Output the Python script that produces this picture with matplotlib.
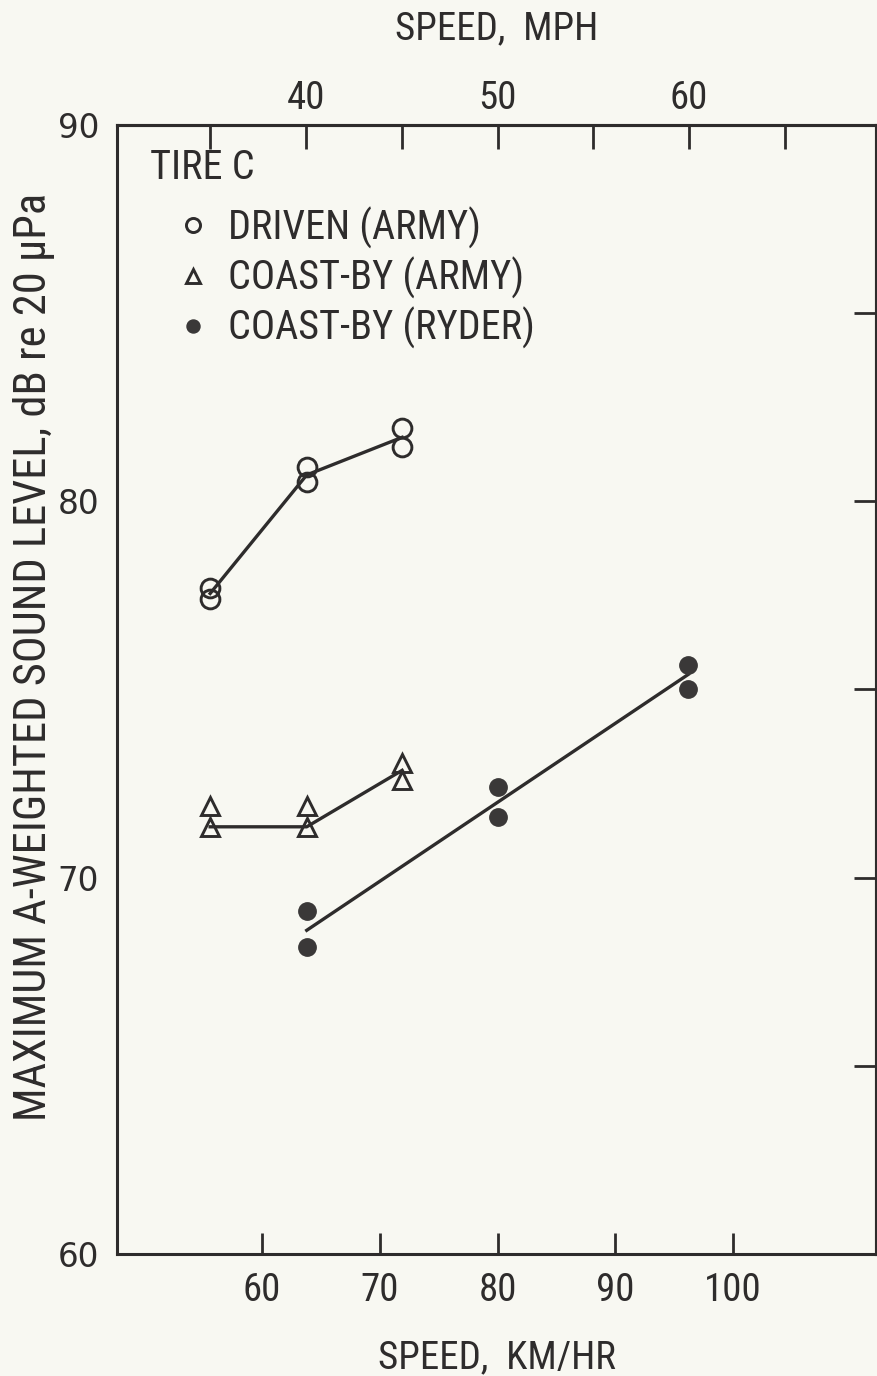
"""
Tire C coast-by / driven noise vs speed, redrawn from the scanned figure.
Writes out.png (877 x 1376 px).
"""

import matplotlib
matplotlib.use("Agg")
import matplotlib.pyplot as plt
from matplotlib import font_manager

# ----------------------------------------------------------------------
# Data (speed in km/hr, level in dB(A))
# ----------------------------------------------------------------------
DRIVEN_KMH = [55.6, 55.6, 63.8, 63.8, 71.9, 71.9]
DRIVEN_DB = [77.7, 77.4, 80.9, 80.5, 81.95, 81.45]
DRIVEN_LINE_KMH = [55.6, 63.8, 71.9]
DRIVEN_LINE_DB = [77.55, 80.7, 81.7]

ARMY_COAST_KMH = [55.6, 55.6, 63.8, 63.8, 71.9, 71.9]
ARMY_COAST_DB = [71.9, 71.35, 71.9, 71.35, 73.05, 72.6]
ARMY_COAST_LINE_KMH = [55.6, 63.8, 71.9]
ARMY_COAST_LINE_DB = [71.35, 71.35, 72.85]

RYDER_KMH = [63.8, 63.8, 80.0, 80.0, 96.2, 96.2]
RYDER_DB = [69.1, 68.15, 72.4, 71.6, 75.65, 75.0]
RYDER_LINE_KMH = [63.8, 96.2]
RYDER_LINE_DB = [68.6, 75.4]

KMH_TICKS = [60, 70, 80, 90, 100]
MPH_TICKS = [35, 40, 45, 50, 55, 60, 65]
MPH_LABELS = ["", "40", "", "50", "", "60", ""]
DB_TICKS = [60, 70, 80, 90]
DB_MINOR = [65, 70, 75, 80, 85]

LEGEND_LABELS = ["DRIVEN (ARMY)", "COAST-BY (ARMY)", "COAST-BY (RYDER)"]

INK = "#2e2c2c"
PAPER = "#f8f8f2"


def pick_narrow_font():
    # the scan uses a condensed grotesque; use whatever narrow face exists
    names = {f.name: f for f in font_manager.fontManager.ttflist}
    for cand in ["Liberation Sans Narrow", "Roboto Condensed", "Open Sans Condensed",
                 "Noto Sans Condensed", "DejaVu Sans Condensed"]:
        if cand in names:
            return cand, "normal"
    for f in font_manager.fontManager.ttflist:
        if f.name in ("DejaVu Sans", "Noto Sans", "Open Sans") and \
                str(f.stretch) in ("condensed", "semi-condensed", "extra-condensed"):
            return f.name, f.stretch
    return "DejaVu Sans", "normal"


# the mph scale on the original is drafted with 50 mph sitting on 80 km/hr
def kmh_to_mph(k):
    return 50 + (k - 80.0) / 1.626


def mph_to_kmh(m):
    return 80.0 + (m - 50) * 1.626


def main():
    family, stretch = pick_narrow_font()
    print("font:", family, stretch)
    plt.rcParams["font.family"] = [family, "DejaVu Sans"]
    plt.rcParams["font.stretch"] = stretch

    fig = plt.figure(figsize=(8.77, 13.76), dpi=100, facecolor=PAPER)
    ax = fig.add_axes([0.1334, 0.0887, 0.8655, 0.8205], facecolor=PAPER)

    # fitted lines first, markers on top
    ax.plot(DRIVEN_LINE_KMH, DRIVEN_LINE_DB, color=INK, lw=2.4, zorder=2)
    ax.plot(ARMY_COAST_LINE_KMH, ARMY_COAST_LINE_DB, color=INK, lw=2.4, zorder=2)
    ax.plot(RYDER_LINE_KMH, RYDER_LINE_DB, color=INK, lw=2.4, zorder=2)

    h1, = ax.plot(DRIVEN_KMH, DRIVEN_DB, ls="none", marker="o", ms=13.5,
                  mfc="none", mec=INK, mew=2.1, zorder=3)
    h2, = ax.plot(ARMY_COAST_KMH, ARMY_COAST_DB, ls="none", marker="^", ms=13,
                  mfc="none", mec=INK, mew=2.1, zorder=3)
    h3, = ax.plot(RYDER_KMH, RYDER_DB, ls="none", marker="o", ms=12.5,
                  mfc="#3a3838", mec="#3a3838", mew=1.0, zorder=3)

    ax.set_xlim(47.69, 112.14)
    ax.set_ylim(60, 90)

    # bottom axis (km/hr)
    ax.set_xticks(KMH_TICKS)
    ax.tick_params(axis="x", direction="in", length=15, width=2, color=INK,
                   labelsize=28, labelcolor=INK, pad=13)
    ax.set_xlabel("SPEED,  KM/HR", fontsize=28, color=INK, labelpad=22)

    # left axis: labels only, ticks live on the right spine
    ax.set_yticks(DB_TICKS)
    ax.tick_params(axis="y", left=False, length=0, pad=13)
    for lab in ax.get_yticklabels():
        lab.set_fontfamily("DejaVu Sans")
        lab.set_fontstretch("normal")
        lab.set_fontsize(23.5)
        lab.set_color(INK)
    ax.set_ylabel("MAXIMUM A-WEIGHTED SOUND LEVEL, dB re 20 \u03bcPa",
                  fontsize=32, color=INK)
    ax.yaxis.set_label_coords(-0.082, 0.529)

    right = ax.secondary_yaxis("right")
    right.set_yticks(DB_MINOR)
    right.tick_params(direction="in", length=16, width=2, color=INK,
                      labelright=False)

    top = ax.secondary_xaxis("top", functions=(kmh_to_mph, mph_to_kmh))
    top.set_xticks(MPH_TICKS, MPH_LABELS)
    top.tick_params(direction="in", length=17, width=2, color=INK,
                    labelsize=28, labelcolor=INK, pad=6)
    top.set_xlabel("SPEED,  MPH", fontsize=28, color=INK, labelpad=29)

    for sp in list(ax.spines.values()) + [right.spines["right"], top.spines["top"]]:
        sp.set_linewidth(2.2)
        sp.set_color(INK)

    ax.text(0.0435, 0.962, "TIRE C", transform=ax.transAxes, fontsize=29,
            color=INK, ha="left", va="center")
    ax.legend([h1, h2, h3], LEGEND_LABELS, loc="upper left",
              bbox_to_anchor=(0.083, 0.9275), frameon=False, fontsize=29,
              labelcolor=INK, handlelength=0.65, handletextpad=0.55,
              labelspacing=0.2, borderpad=0, borderaxespad=0, markerscale=0.75)

    fig.savefig("out.png", dpi=100, facecolor=PAPER)
    plt.close(fig)


if __name__ == "__main__":
    main()
